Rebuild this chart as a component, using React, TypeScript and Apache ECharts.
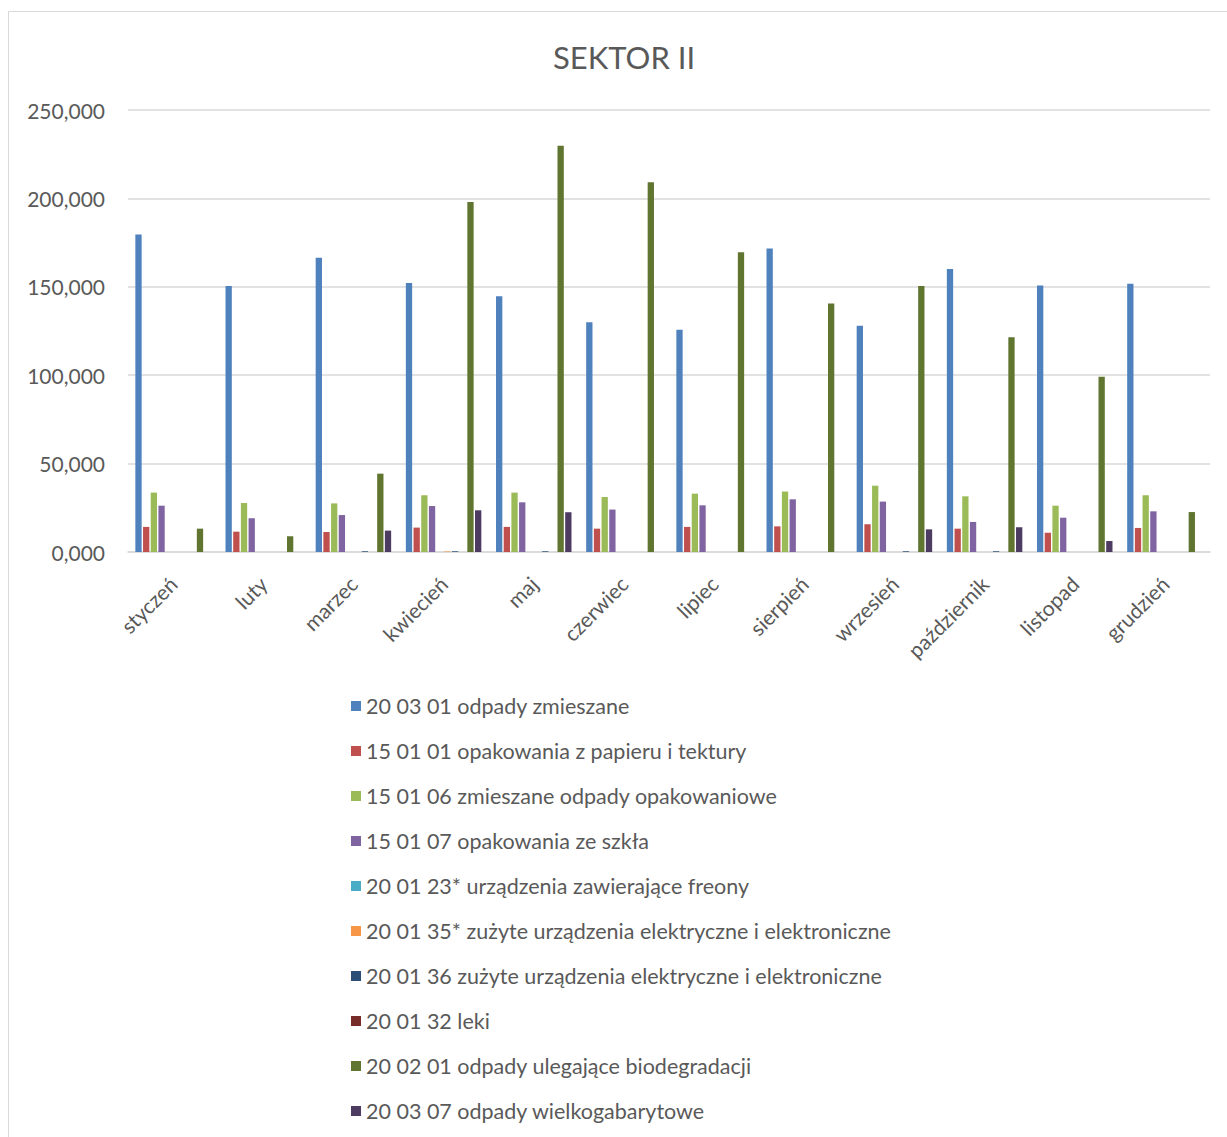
import React, { useEffect, useRef } from "react";
import * as echarts from "echarts";

const months = ["styczeń", "luty", "marzec", "kwiecień", "maj", "czerwiec", "lipiec", "sierpień", "wrzesień", "październik", "listopad", "grudzień"];

const seriesNames = [
  "20 03 01 odpady zmieszane",
  "15 01 01 opakowania z papieru i tektury",
  "15 01 06 zmieszane odpady opakowaniowe",
  "15 01 07 opakowania ze szkła",
  "20 01 23* urządzenia zawierające freony",
  "20 01 35* zużyte urządzenia elektryczne i elektroniczne",
  "20 01 36 zużyte urządzenia elektryczne i elektroniczne",
  "20 01 32 leki",
  "20 02 01 odpady ulegające biodegradacji",
  "20 03 07 odpady wielkogabarytowe",
];

const colors = ["#4F81BD", "#C0504D", "#9BBB59", "#8064A2", "#4BACC6", "#F79646", "#2C4D75", "#772C2A", "#5F7530", "#4D3B62"];

const zmieszane = [179.6, 150.4, 166.4, 152.1, 144.7, 130.0, 125.7, 171.7, 127.9, 160.0, 150.8, 151.7];
const papier = [14.2, 11.5, 11.3, 13.8, 14.2, 13.2, 14.2, 14.5, 15.7, 13.2, 10.9, 13.6];
const opakowaniowe = [33.6, 27.7, 27.5, 32.1, 33.6, 31.1, 33.0, 34.2, 37.5, 31.5, 26.2, 32.1];
const szklo = [26.2, 19.1, 20.9, 26.0, 28.1, 24.0, 26.4, 29.8, 28.5, 17.0, 19.4, 23.0];
const freony = [0, 0, 0, 0, 0, 0, 0, 0, 0, 0, 0, 0];
const elektro35 = [0, 0, 0, 0.3, 0, 0, 0, 0, 0, 0, 0, 0];
const elektro36 = [0, 0, 0.4, 0.4, 0.4, 0, 0, 0, 0.4, 0.4, 0, 0];
const leki = [0, 0, 0, 0, 0, 0, 0, 0, 0, 0, 0, 0];
const bio = [13.2, 8.9, 44.3, 197.9, 229.8, 209.1, 169.6, 140.6, 150.4, 121.5, 99.1, 22.6];
const wielkogabarytowe = [0, 0, 12.1, 23.6, 22.5, 0, 0, 0, 12.8, 14.0, 6.2, 0];

const allData = [zmieszane, papier, opakowaniowe, szklo, freony, elektro35, elektro36, leki, bio, wielkogabarytowe];

const yMin = 0;
const yMax = 250;
const yInterval = 50;

const FONT = "Lato, 'Open Sans', sans-serif";
const TEXT = "#595959";

export default function App() {
  const ref = useRef<HTMLDivElement>(null);
  useEffect(() => {
    if (!ref.current) return;
    const chart = echarts.init(ref.current, null, { renderer: "svg" });
    chart.setOption({
      animation: false,
      backgroundColor: "#ffffff",
      color: colors,
      textStyle: { fontFamily: FONT },
      title: {
        text: "SEKTOR II",
        left: 548,
        top: 36,
        textStyle: { fontFamily: FONT, fontSize: 31, fontWeight: "normal", color: TEXT },
      },
      graphic: [
        {
          type: "rect",
          shape: { x: 8.5, y: 11.5, width: 1240, height: 1150 },
          style: { fill: "none", stroke: "#d9d9d9", lineWidth: 1 },
          silent: true,
        },
      ],
      legend: {
        orient: "vertical",
        left: 346,
        top: 690,
        height: 445,
        itemWidth: 10,
        itemHeight: 10,
        itemGap: 23,
        icon: "rect",
        data: seriesNames,
        textStyle: { fontFamily: FONT, fontSize: 21.5, color: TEXT },
      },
      grid: { left: 128, right: 17, top: 110, bottom: 585, containLabel: false },
      xAxis: {
        type: "category",
        data: months,
        axisLine: { show: true, lineStyle: { color: "#d9d9d9", width: 1.5 } },
        axisTick: { show: false },
        axisLabel: { rotate: 45, fontSize: 21, color: TEXT, fontFamily: FONT, margin: 28, interval: 0 },
      },
      yAxis: {
        type: "value",
        min: yMin,
        max: yMax,
        interval: yInterval,
        axisLine: { show: false },
        axisTick: { show: false },
        splitLine: { lineStyle: { color: "#d9d9d9", width: 1.5 } },
        axisLabel: {
          fontSize: 21,
          color: TEXT,
          fontFamily: FONT,
          margin: 23,
          formatter: (v: number) => v.toFixed(3).replace(".", ","),
        },
      },
      series: seriesNames.map((name, i) => ({
        name,
        type: "bar",
        data: allData[i],
        barWidth: 6.3,
        barGap: "22%",
        itemStyle: { color: colors[i] },
      })),
    });
    return () => chart.dispose();
  }, []);
  return <div ref={ref} style={{ position: "absolute", left: 0, top: 0, width: 1227, height: 1137 }} />;
}
